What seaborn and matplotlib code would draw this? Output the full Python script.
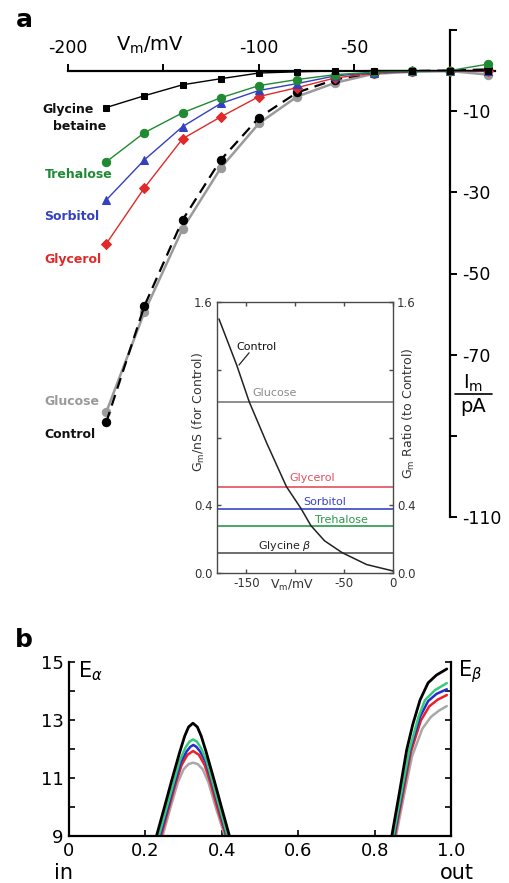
import matplotlib
matplotlib.use("Agg")
import matplotlib.pyplot as plt
from matplotlib.lines import Line2D
import seaborn as sns

# panel a: current-voltage curves
vm = [-180, -160, -140, -120, -100, -80, -60, -40, -20, 0, 20]
i_control = [-86.7, -58.0, -36.8, -22.0, -11.6, -5.4, -2.2, -0.5, -0.1, 0.0, 0.3]
i_glucose = [-84.2, -59.5, -39.0, -24.0, -13.0, -6.4, -3.0, -0.8, -0.3, -0.1, -1.0]
i_glycerol = [-42.7, -28.9, -16.8, -11.4, -6.4, -4.2, -1.8, -0.7, -0.2, 0.0, -0.2]
i_sorbitol = [-31.9, -22.0, -13.8, -8.1, -4.9, -3.2, -1.3, -0.5, -0.2, 0.0, 0.0]
i_trehalose = [-22.5, -15.3, -10.4, -6.7, -3.7, -2.2, -1.0, -0.4, -0.1, 0.0, 1.6]
i_betaine = [-9.1, -6.2, -3.5, -2.0, -0.6, -0.3, -0.1, 0.0, 0.0, 0.0, 0.0]

# inset: conductance of control and ratios
g_vm = [-178, -160, -147, -129, -109, -94, -84, -70, -52, -27, 0]
g_control = [1.50, 1.23, 1.01, 0.765, 0.51, 0.38, 0.28, 0.19, 0.12, 0.05, 0.012]
ratio_names = ["Glucose", "Glycerol", "Sorbitol", "Trehalose", "Glycine β"]
ratio_values = [1.01, 0.51, 0.38, 0.28, 0.12]

# panel b: energy profiles, first barrier
b1_black_x = [0.229, 0.25, 0.27, 0.29, 0.303, 0.313, 0.3245, 0.336, 0.346, 0.359, 0.379, 0.399, 0.42]
b1_black_e = [9.0, 10.0, 10.97, 11.9, 12.45, 12.76, 12.89, 12.76, 12.45, 11.9, 10.97, 10.0, 9.0]
b1_green_x = [0.235, 0.255, 0.275, 0.29, 0.305, 0.315, 0.325, 0.335, 0.345, 0.36, 0.375, 0.395, 0.415]
b1_green_e = [9.0, 9.95, 10.9, 11.6, 12.05, 12.25, 12.33, 12.25, 12.05, 11.6, 10.9, 9.95, 9.0]
b1_blue_x = [0.238, 0.258, 0.278, 0.293, 0.308, 0.318, 0.3255, 0.333, 0.343, 0.358, 0.373, 0.393, 0.413]
b1_blue_e = [9.0, 9.95, 10.9, 11.55, 11.92, 12.08, 12.14, 12.08, 11.92, 11.55, 10.9, 9.95, 9.0]
b1_red_x = [0.241, 0.26, 0.28, 0.295, 0.31, 0.325, 0.34, 0.355, 0.37, 0.39, 0.411]
b1_red_e = [9.0, 9.9, 10.85, 11.45, 11.8, 11.93, 11.8, 11.45, 10.85, 9.9, 9.0]
b1_gray_x = [0.245, 0.265, 0.285, 0.30, 0.313, 0.325, 0.337, 0.35, 0.365, 0.385, 0.408]
b1_gray_e = [9.0, 9.95, 10.85, 11.3, 11.48, 11.53, 11.48, 11.3, 10.85, 9.95, 9.0]

# second barrier
b2_black_x = [0.845, 0.865, 0.884, 0.90, 0.919, 0.94, 0.962, 0.989]
b2_black_e = [9.0, 10.5, 11.97, 12.85, 13.69, 14.28, 14.55, 14.76]
b2_green_x = [0.849, 0.87, 0.891, 0.915, 0.932, 0.958, 0.989]
b2_green_e = [9.0, 10.5, 11.97, 13.11, 13.69, 14.03, 14.27]
b2_blue_x = [0.851, 0.872, 0.893, 0.919, 0.94, 0.962, 0.989]
b2_blue_e = [9.0, 10.5, 11.97, 13.11, 13.65, 13.9, 14.06]
b2_red_x = [0.853, 0.874, 0.895, 0.921, 0.943, 0.965, 0.989]
b2_red_e = [9.0, 10.45, 11.9, 12.98, 13.47, 13.7, 13.86]
b2_gray_x = [0.856, 0.877, 0.898, 0.925, 0.947, 0.968, 0.989]
b2_gray_e = [9.0, 10.4, 11.75, 12.7, 13.1, 13.32, 13.48]

GREEN = "#1f8a32"
BLUE = "#3340c0"
RED = "#e02a2a"
GRAY = "#9a9a9a"

sns.set_style("white")
plt.rcParams["font.family"] = ["DejaVu Sans"]
plt.rcParams["mathtext.fontset"] = "dejavusans"
plt.rcParams["text.color"] = "black"
plt.rcParams["xtick.color"] = "black"
plt.rcParams["ytick.color"] = "black"

W, H = 510, 883
fig = plt.figure(figsize=(W / 100, H / 100), dpi=100)


def fx(x, y):
    return x / W, 1 - y / H


# ---------- panel a ----------
ax = fig.add_axes([68 / W, 1 - 517 / H, 427 / W, 487 / H])
ax.set_xlim(-200, 23.6)
ax.set_ylim(-110, 10)
ax.patch.set_alpha(0)
for s in ["left", "bottom"]:
    ax.spines[s].set_visible(False)
ax.spines["top"].set_position(("data", 0))
ax.spines["right"].set_position(("data", 0))
for s in ["top", "right"]:
    ax.spines[s].set_linewidth(1.6)
    ax.spines[s].set_color("black")
ax.xaxis.set_ticks_position("top")
ax.yaxis.set_ticks_position("right")
ax.set_xticks([-200, -150, -100, -50])
ax.set_xticklabels(["-200", "", "-100", "-50"])
ax.set_yticks([10, -10, -30, -50, -70, -90, -110])
ax.set_yticklabels(["", "-10", "-30", "-50", "-70", "", "-110"])
ax.tick_params(axis="x", direction="out", length=5, width=1.4, labelsize=12.5, pad=5,
               colors="black")
ax.tick_params(axis="y", direction="out", length=5, width=1.4, labelsize=12.5, pad=4,
               colors="black")
ax.grid(False)

sns.lineplot(x=vm, y=i_glucose, ax=ax, color=GRAY, lw=1.8, marker="o", ms=6,
             mec=GRAY, mfc=GRAY, zorder=3)
sns.lineplot(x=vm, y=i_control, ax=ax, color="black", lw=1.6, ls=(0, (5, 3)),
             marker="o", ms=6, mec="black", mfc="black", zorder=4)
sns.lineplot(x=vm, y=i_glycerol, ax=ax, color=RED, lw=1, marker="D", ms=5,
             mec=RED, mfc=RED, zorder=5)
sns.lineplot(x=vm, y=i_sorbitol, ax=ax, color=BLUE, lw=1, marker="^", ms=6,
             mec=BLUE, mfc=BLUE, zorder=5)
sns.lineplot(x=vm, y=i_trehalose, ax=ax, color=GREEN, lw=1, marker="o", ms=6,
             mec=GREEN, mfc=GREEN, zorder=5)
sns.lineplot(x=vm, y=i_betaine, ax=ax, color="black", lw=1, marker="s", ms=5,
             mec="black", mfc="black", zorder=6)

lab_kw = dict(ha="center", va="center", fontsize=9, fontweight="bold")
fig.text(*fx(68, 110), "Glycine", color="#111111", **lab_kw)
fig.text(*fx(80, 127), "betaine", color="#111111", **lab_kw)
fig.text(*fx(79, 175), "Trehalose", color=GREEN, **lab_kw)
fig.text(*fx(72, 217), "Sorbitol", color=BLUE, **lab_kw)
fig.text(*fx(73, 260), "Glycerol", color=RED, **lab_kw)
fig.text(*fx(72, 402), "Glucose", color=GRAY, **lab_kw)
fig.text(*fx(70, 434), "Control", color="#111111", **lab_kw)

fig.text(*fx(150, 45), r"V$_\mathrm{m}$/mV", ha="center", va="center", fontsize=14)
fig.text(*fx(473, 383), r"I$_\mathrm{m}$", ha="center", va="center", fontsize=14)
fig.text(*fx(473, 406), "pA", ha="center", va="center", fontsize=14)
fig.add_artist(Line2D([455 / W, 492 / W], [1 - 394 / H, 1 - 394 / H],
                      color="black", lw=1.2))

fig.text(*fx(24, 20), "a", ha="center", va="center", fontsize=18, fontweight="bold")
fig.text(*fx(24, 640), "b", ha="center", va="center", fontsize=18, fontweight="bold")

# ---------- inset ----------
SP = "#4a4a4a"
axin = fig.add_axes([217 / W, 1 - 573 / H, 176 / W, 271 / H])
axin.set_facecolor("white")
axin.set_xlim(-180, 0)
axin.set_ylim(0, 1.6)
for s in axin.spines.values():
    s.set_color(SP)
    s.set_linewidth(1.0)
    s.set_visible(True)
axin.set_xticks([-150, -100, -50, 0])
axin.set_xticklabels(["-150", "", "-50", "0"])
axin.set_yticks([0, 0.4, 0.8, 1.2, 1.6])
axin.set_yticklabels(["0.0", "0.4", "", "", "1.6"])
axin.tick_params(direction="in", length=3, width=1, color=SP, labelsize=8.5,
                 labelcolor="#333333", top=True, bottom=True, left=True, pad=3)
axin.grid(False)
axr = axin.twinx()
axr.set_ylim(0, 1.6)
axr.set_yticks([0, 0.4, 0.8, 1.2, 1.6])
axr.set_yticklabels(["0.0", "0.4", "", "", "1.6"])
axr.tick_params(direction="in", length=3, width=1, color=SP, labelsize=8.5,
                labelcolor="#333333", pad=3)
for s in axr.spines.values():
    s.set_visible(False)
axr.grid(False)

ratio_colors = ["#7a7a7a", "#e05060", "#3a45c8", "#2a9a4a", "#555555"]
for val, col in zip(ratio_values, ratio_colors):
    axin.axhline(val, color=col, lw=1.2)
sns.lineplot(x=g_vm, y=g_control, ax=axin, color="#222222", lw=1.1)

small = dict(ha="center", va="center", fontsize=8)
axin.text(-140, 1.334, "Control", color="#111111", **small)
axin.plot([-147.2, -157.5], [1.30, 1.228], color="#222222", lw=0.9)
axin.text(-120.7, 1.06, "Glucose", color="#8a8a8a", **small)
axin.text(-82.8, 0.56, "Glycerol", color="#e05060", **small)
axin.text(-69.5, 0.42, "Sorbitol", color="#3a45c8", **small)
axin.text(-53.2, 0.315, "Trehalose", color="#2a9a4a", **small)
axin.text(-110.4, 0.16, "Glycine $\\beta$", color="#222222", **small)

fig.text(*fx(292, 585), r"V$_\mathrm{m}$/mV", ha="center", va="center", fontsize=9,
         color="#333333")
fig.text(*fx(199, 412), r"G$_\mathrm{m}$/nS (for Control)", ha="center", va="center",
         fontsize=9, color="#333333", rotation=90)
fig.text(*fx(409, 413), r"G$_\mathrm{m}$ Ratio (to Control)", ha="center", va="center",
         fontsize=9, color="#333333", rotation=90)

# ---------- panel b ----------
axb = fig.add_axes([69 / W, 1 - 836 / H, 382 / W, 174 / H])
axb.set_xlim(0, 1)
axb.set_ylim(9, 15)
axb.spines["top"].set_visible(False)
for s in ["left", "right", "bottom"]:
    axb.spines[s].set_color("black")
    axb.spines[s].set_linewidth(1.6)
axb.set_xticks([0, 0.2, 0.4, 0.6, 0.8, 1.0])
axb.set_xticklabels(["0", "0.2", "0.4", "0.6", "0.8", "1.0"])
axb.set_yticks([9, 10, 11, 12, 13, 14, 15])
axb.set_yticklabels(["9", "", "11", "", "13", "", "15"])
axb.tick_params(direction="in", length=4, width=1.2, labelsize=13, right=True,
                bottom=True, left=True, pad=4, colors="black")
axb.grid(False)

b_sets = [
    (b1_gray_x, b1_gray_e, b2_gray_x, b2_gray_e, "#a8a8a8", 1.8),
    (b1_red_x, b1_red_e, b2_red_x, b2_red_e, "#ee2020", 1.8),
    (b1_blue_x, b1_blue_e, b2_blue_x, b2_blue_e, "#2a2ad0", 1.8),
    (b1_green_x, b1_green_e, b2_green_x, b2_green_e, "#33cc77", 1.8),
    (b1_black_x, b1_black_e, b2_black_x, b2_black_e, "black", 2.0),
]
for x1, e1, x2, e2, col, lw in b_sets:
    sns.lineplot(x=x1, y=e1, ax=axb, color=col, lw=lw, sort=False, estimator=None)
    sns.lineplot(x=x2, y=e2, ax=axb, color=col, lw=lw, sort=False, estimator=None)

fig.text(*fx(90, 671), r"E$_\alpha$", ha="center", va="center", fontsize=15)
fig.text(*fx(470, 672), r"E$_\beta$", ha="center", va="center", fontsize=15)
fig.text(*fx(64, 873), "in", ha="center", va="center", fontsize=15)
fig.text(*fx(457, 873), "out", ha="center", va="center", fontsize=15)

fig.savefig("out.png", dpi=100)
